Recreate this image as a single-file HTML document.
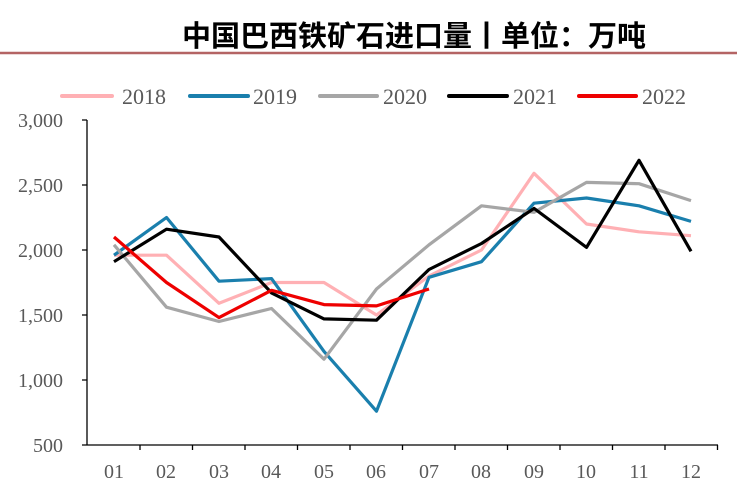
<!DOCTYPE html>
<html><head><meta charset="utf-8"><style>
body{margin:0;background:#fff;width:737px;height:492px;overflow:hidden}
svg text{font-family:"Liberation Serif",serif;fill:#595959}
</style></head><body>
<svg width="737" height="492" xmlns="http://www.w3.org/2000/svg">
<text x="414" y="46" text-anchor="middle" style="font-family:'Liberation Sans','Noto Sans CJK SC',sans-serif;font-weight:bold;font-size:29px;fill:#000">中国巴西铁矿石进口量丨单位：万吨</text>
<line x1="0" y1="53" x2="737" y2="53" stroke="#b46464" stroke-width="2.5"/>
<g stroke-width="4" stroke-linecap="round">
<line x1="62" y1="96" x2="112" y2="96" stroke="#ffb0b4"/>
<line x1="190" y1="96" x2="248" y2="96" stroke="#1a7fad"/>
<line x1="320" y1="96" x2="377" y2="96" stroke="#a6a6a6"/>
<line x1="449" y1="96" x2="507" y2="96" stroke="#000"/>
<line x1="579" y1="96" x2="636" y2="96" stroke="#e00"/>
</g>
<g font-size="22">
<text x="122" y="104">2018</text><text x="253" y="104">2019</text><text x="383" y="104">2020</text><text x="513" y="104">2021</text><text x="642" y="104">2022</text>
</g>
<g stroke="#000" stroke-width="1.3" fill="none">
<line x1="87" y1="120" x2="87" y2="445"/>
<line x1="87" y1="445" x2="718" y2="445"/>
<path d="M82 120H87M82 185H87M82 250H87M82 315H87M82 380H87M82 445H87"/>
<path d="M140 445v5M192.5 445v5M245 445v5M297.5 445v5M350 445v5M402.5 445v5M455 445v5M507.5 445v5M560 445v5M612.5 445v5M665 445v5M717.5 445v5"/>
</g>
<g font-size="20" text-anchor="end">
<text x="63" y="127">3,000</text><text x="63" y="192">2,500</text><text x="63" y="257">2,000</text><text x="63" y="322">1,500</text><text x="63" y="387">1,000</text><text x="63" y="452">500</text>
</g>
<g font-size="20" text-anchor="middle">
<text x="114" y="478">01</text><text x="166" y="478">02</text><text x="219" y="478">03</text><text x="271" y="478">04</text><text x="324" y="478">05</text><text x="376" y="478">06</text><text x="429" y="478">07</text><text x="481" y="478">08</text><text x="534" y="478">09</text><text x="586" y="478">10</text><text x="639" y="478">11</text><text x="691" y="478">12</text>
</g>
<g fill="none" stroke-width="3.2" stroke-linejoin="round">
<polyline stroke="#ffb0b4" points="114,255.2 166.5,255.2 219,303.3 271.5,282.5 324,282.5 376.5,315 429,276 481.5,250 534,173.3 586.5,224 639,231.8 691,235.7"/>
<polyline stroke="#1a7fad" points="114,255.2 166.5,217.5 219,281.2 271.5,278.6 324,351.4 376.5,411.2 429,277.3 481.5,261.7 534,203.2 586.5,198 639,205.8 691,221.4"/>
<polyline stroke="#a6a6a6" points="114,244.8 166.5,307.2 219,321.5 271.5,308.5 324,359.2 376.5,289 429,244.8 481.5,205.8 534,212.3 586.5,182.4 639,183.7 691,200.6"/>
<polyline stroke="#000" points="114,261.7 166.5,229.2 219,237 271.5,292.9 324,318.9 376.5,320.2 429,269.5 481.5,243.5 534,208.4 586.5,247.4 639,160.3 691,251.3"/>
<polyline stroke="#e00" points="114,237 166.5,282.5 219,317.6 271.5,290.3 324,304.6 376.5,305.9 429,289"/>
</g>
</svg>
</body></html>
